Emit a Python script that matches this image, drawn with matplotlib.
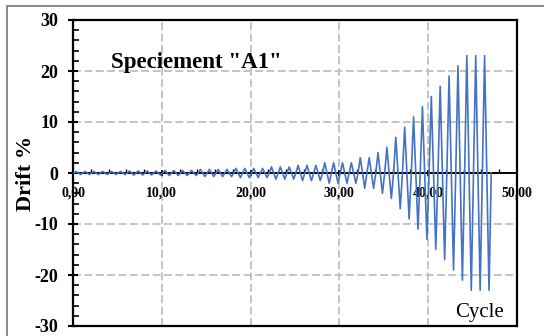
import numpy as np
import matplotlib
matplotlib.use("Agg")
import matplotlib.pyplot as plt
from matplotlib.ticker import MultipleLocator, FuncFormatter
from matplotlib.patches import Rectangle

# amplitude (drift %) of each loading cycle
cycle_amplitudes = [0.3] * 6 + [0.4] * 4 + [0.5] * 4 + [0.7] * 4 + [0.9] * 4 + \
    [1.2] * 3 + [1.5] * 3 + [2.0] * 4 + [3.0] * 2 + \
    [4.0, 5.0, 7.0, 9.0, 11.0, 13.0, 15.0, 17.0, 19.0, 21.0] + [23.0] * 3
cycle_start = 0.1
title_text = 'Speciement "A1"'
x_label = "Cycle"
y_label = "Drift %"

# build the triangular loading history: 0, +A, 0, -A per cycle
xs, ys = [], []
for k, a in enumerate(cycle_amplitudes):
    base = cycle_start + k
    xs += [base, base + 0.25, base + 0.5, base + 0.75]
    ys += [0.0, a, 0.0, -a]
xs.append(cycle_start + len(cycle_amplitudes))
ys.append(0.0)

serif = ["Liberation Serif", "DejaVu Serif"]
plt.rcParams["font.family"] = serif
plt.rcParams["axes.unicode_minus"] = False

fig = plt.figure(figsize=(5.44, 3.36), dpi=100)
W, H = 544, 336
ax = fig.add_axes([73 / W, 1 - 326 / H, (517 - 73) / W, (326 - 20) / H])

# outer chart frame
fig.patches.append(Rectangle((7 / W, -0.05), 1.2, 1 - 5.5 / H + 0.05,
                             transform=fig.transFigure, fill=False,
                             edgecolor="#808080", linewidth=1.3))

ax.plot(xs, ys, color="#4472C4", linewidth=1.2, zorder=3)

ax.set_xlim(0, 50)
ax.set_ylim(-30, 30)
ax.set_xticks(np.arange(0, 51, 10))
ax.set_yticks(np.arange(-30, 31, 10))
ax.xaxis.set_minor_locator(MultipleLocator(2))
ax.yaxis.set_minor_locator(MultipleLocator(2))
ax.grid(True, which="major", color="#BFBFBF", linewidth=1.3,
        linestyle=(0, (4.4, 1.9)), zorder=0)

# bottom spine acts as the zero axis; frame bottom drawn separately
ax.spines["bottom"].set_position(("data", 0))
ax.axhline(-30, color="black", linewidth=1.6, clip_on=False, zorder=4)
ax.xaxis.set_major_formatter(FuncFormatter(lambda v, p: f"{v:.2f}".replace(".", ",")))
ax.tick_params(axis="x", which="major", direction="inout", length=5, width=1.2,
               labelsize=10, pad=7)
ax.tick_params(axis="x", which="minor", direction="in", length=3, width=1)
ax.tick_params(axis="y", which="major", direction="inout", length=7, width=1.5,
               labelsize=13, pad=7)
ax.tick_params(axis="y", which="minor", direction="in", length=4, width=1.2)
for lab in ax.get_yticklabels() + ax.get_xticklabels():
    lab.set_fontweight("bold")
for s in ax.spines.values():
    s.set_linewidth(1.6)
    s.set_color("black")
ax.spines["bottom"].set_linewidth(1.4)

ax.text(-0.105, 0.5, y_label, transform=ax.transAxes, rotation=90,
        ha="center", va="center", fontsize=16, fontweight="bold")
ax.text(0.085, 0.86, title_text, transform=ax.transAxes, ha="left",
        va="center", fontsize=16.5, fontweight="bold")
ax.text(0.97, 0.045, x_label, transform=ax.transAxes, ha="right",
        va="center", fontsize=15)

fig.savefig("out.png", dpi=100)
